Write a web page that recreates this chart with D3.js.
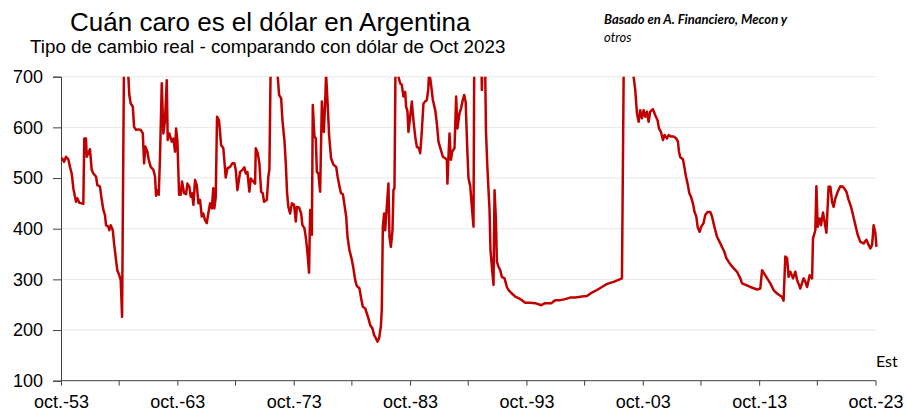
<!DOCTYPE html>
<html><head><meta charset="utf-8">
<script src="https://cdn.jsdelivr.net/npm/d3@7"></script>
<style>body{margin:0;background:#fff} svg{display:block}</style>
</head><body>
<svg id="c" width="907" height="412"></svg>
<script>
// Decimal years (Oct 1953 = 1953.75) and real exchange rate values
const years = [1953.75,1953.90,1954.01,1954.18,1954.38,1954.52,1954.67,1954.81,1954.95,1955.04,1955.15,1955.32,1955.53,1955.67,1955.75,1955.90,1955.96,1956.10,1956.24,1956.39,1956.53,1956.76,1956.87,1957.10,1957.25,1957.39,1957.53,1957.62,1957.82,1957.90,1958.02,1958.20,1958.31,1958.48,1958.59,1958.76,1958.88,1959.00,1959.25,1959.54,1959.62,1959.74,1959.92,1960.03,1960.20,1960.40,1960.60,1960.78,1960.89,1961.00,1961.17,1961.29,1961.46,1961.69,1961.83,1961.92,1962.03,1962.15,1962.26,1962.41,1962.55,1962.69,1962.84,1962.92,1963.06,1963.27,1963.41,1963.55,1963.64,1963.75,1963.90,1964.04,1964.15,1964.33,1964.50,1964.61,1964.78,1964.90,1965.01,1965.13,1965.27,1965.42,1965.56,1965.70,1965.85,1965.98,1966.13,1966.28,1966.41,1966.56,1966.71,1966.84,1966.93,1967.05,1967.16,1967.33,1967.51,1967.70,1967.91,1968.05,1968.28,1968.48,1968.65,1968.77,1968.91,1969.14,1969.34,1969.51,1969.63,1969.77,1969.94,1970.06,1970.28,1970.43,1970.49,1970.66,1970.80,1970.95,1971.09,1971.20,1971.44,1971.57,1971.66,1971.89,1972.15,1972.38,1972.49,1972.67,1972.78,1972.95,1973.07,1973.18,1973.29,1973.44,1973.59,1973.78,1973.93,1974.02,1974.21,1974.39,1974.50,1974.67,1974.82,1974.96,1975.07,1975.16,1975.31,1975.39,1975.53,1975.65,1975.74,1975.87,1976.02,1976.17,1976.34,1976.45,1976.53,1976.68,1976.79,1976.96,1977.17,1977.40,1977.52,1977.69,1977.81,1977.98,1978.09,1978.26,1978.37,1978.54,1978.75,1978.88,1979.03,1979.17,1979.40,1979.54,1979.69,1979.89,1980.03,1980.17,1980.32,1980.52,1980.66,1980.81,1980.95,1981.09,1981.24,1981.32,1981.41,1981.52,1981.61,1981.69,1981.89,1981.98,1982.10,1982.24,1982.32,1982.41,1982.60,1982.75,1982.90,1983.04,1983.18,1983.33,1983.41,1983.53,1983.61,1983.76,1983.90,1984.04,1984.19,1984.33,1984.51,1984.62,1984.73,1984.90,1985.05,1985.19,1985.31,1985.39,1985.54,1985.71,1985.91,1986.05,1986.19,1986.40,1986.57,1986.77,1986.91,1986.96,1987.05,1987.14,1987.26,1987.37,1987.57,1987.71,1987.82,1988.00,1988.14,1988.25,1988.40,1988.53,1988.66,1988.77,1988.92,1989.06,1989.20,1989.30,1989.55,1989.85,1989.92,1990.05,1990.18,1990.27,1990.38,1990.49,1990.58,1990.66,1990.78,1990.92,1991.01,1991.13,1991.21,1991.35,1991.50,1991.64,1991.87,1992.07,1992.21,1992.50,1992.79,1993.07,1993.36,1993.65,1994.08,1994.51,1995.02,1995.36,1995.88,1996.22,1996.65,1997.08,1997.51,1997.94,1998.52,1998.95,1999.38,1999.81,2000.24,2000.52,2000.81,2001.24,2001.67,2001.96,2002.14,2002.42,2002.77,2002.96,2003.10,2003.25,2003.39,2003.53,2003.68,2003.82,2003.96,2004.11,2004.25,2004.39,2004.62,2004.82,2005.02,2005.14,2005.31,2005.48,2005.62,2005.83,2005.97,2006.17,2006.40,2006.63,2006.77,2006.86,2006.97,2007.20,2007.32,2007.46,2007.60,2007.75,2007.89,2008.06,2008.20,2008.35,2008.46,2008.63,2008.78,2008.97,2009.12,2009.32,2009.55,2009.70,2009.83,2009.98,2010.13,2010.35,2010.56,2010.75,2010.93,2011.12,2011.33,2011.55,2011.85,2012.13,2012.28,2012.99,2013.57,2013.85,2014.00,2014.28,2014.71,2014.99,2015.29,2015.72,2015.85,2016.00,2016.15,2016.28,2016.43,2016.66,2016.86,2017.01,2017.29,2017.57,2017.72,2017.87,2018.09,2018.30,2018.38,2018.58,2018.67,2018.78,2018.95,2019.07,2019.24,2019.35,2019.53,2019.72,2019.87,2020.02,2020.15,2020.30,2020.50,2020.73,2020.96,2021.25,2021.44,2021.65,2021.82,2022.02,2022.22,2022.45,2022.73,2022.97,2023.16,2023.31,2023.46,2023.59,2023.74,2023.83];
const values = [541,537,532,542,537,522,509,480,463,453,460,451,450,449,578,578,542,549,557,516,509,503,486,483,457,437,427,407,404,397,407,397,371,338,318,308,299,226,1000,700,664,647,641,601,595,596,595,588,529,562,552,536,522,516,503,465,476,467,542,687,588,614,693,575,588,572,578,552,598,575,467,467,493,470,468,489,483,463,470,447,496,486,450,457,424,430,417,411,430,450,440,480,440,463,621,614,565,559,501,519,522,529,529,516,476,512,516,521,509,512,473,499,493,489,559,549,529,473,470,453,457,503,516,950,900,700,664,657,614,575,529,470,443,430,450,447,414,443,442,430,407,401,378,345,313,437,388,644,582,578,512,509,473,651,591,647,705,641,585,539,526,522,503,483,470,468,450,424,384,358,338,322,299,287,282,263,246,243,233,223,210,203,190,184,177,184,207,240,404,430,397,424,489,384,364,397,476,480,1000,700,687,684,661,670,641,631,591,621,651,614,582,562,559,549,582,647,651,654,674,710,687,654,634,608,572,555,542,539,536,489,542,588,536,552,559,661,598,628,638,651,664,650,560,500,484,443,404,900,1000,760,674,850,760,595,529,476,437,358,325,289,476,417,335,325,318,305,302,285,279,272,266,263,259,254,254,253,249,253,253,259,259,261,264,264,266,267,274,279,285,289,292,295,299,302,800,1100,850,700,674,628,611,634,618,634,621,631,611,631,636,624,614,598,591,575,585,578,585,582,582,578,572,552,541,537,522,503,489,470,463,450,433,424,404,394,404,411,427,433,433,424,411,397,384,374,364,355,342,335,328,322,315,302,292,285,280,282,318,308,292,279,272,265,258,345,342,305,315,302,315,299,282,302,295,285,308,302,381,397,484,404,420,407,432,417,392,483,483,453,443,460,473,484,483,473,457,443,427,407,388,374,371,378,368,361,368,407,391,364];

const yTicks = [100,200,300,400,500,600,700];
const xTickYears = [1953.75,1963.75,1973.75,1983.75,1993.75,2003.75,2013.75,2023.75];
const xTickLabels = ["oct.-53","oct.-63","oct.-73","oct.-83","oct.-93","oct.-03","oct.-13","oct.-23"];
const xMinorYears = [1958.75,1968.75,1978.75,1988.75,1998.75,2008.75,2018.75];

const titleText = "Cuán caro es el dólar en Argentina";
const subtitleText = "Tipo de cambio real - comparando con dólar de Oct 2023";
const noteLine1 = "Basado en A. Financiero, Mecon y";
const noteLine2 = "otros";
const estText = "Est";

const svg = d3.select("#c");
const L = 61, R = 875.5, T = 76.7, B = 380.7;
const x = d3.scaleLinear().domain([1953.75, 2023.75]).range([L, R]);
const y = d3.scaleLinear().domain([100, 700]).range([B, T]);
const font = "'Liberation Sans', Arial, sans-serif";

// gridlines
svg.append("g").selectAll("line").data(yTicks.filter(d => d > 100)).join("line")
  .attr("x1", L).attr("x2", 876).attr("y1", d => y(d)).attr("y2", d => y(d))
  .attr("stroke", "#e8e8e8").attr("stroke-width", 1);

// y axis
const yAxis = d3.axisLeft(y).tickValues(yTicks).tickSize(8).tickPadding(10).tickFormat(d3.format("d"));
const gy = svg.append("g").attr("transform", `translate(${L},0)`).call(yAxis);
gy.select(".domain").attr("stroke", "#404040");
gy.selectAll(".tick line").attr("stroke", "#404040");
gy.selectAll("text").attr("font-family", font).attr("font-size", 18).attr("fill", "#000");

// x axis
const xAxis = d3.axisBottom(x).tickValues(xTickYears).tickSize(5).tickPadding(10)
  .tickFormat((d, i) => xTickLabels[i]);
const gx = svg.append("g").attr("transform", `translate(0,${B})`).call(xAxis);
gx.select(".domain").attr("stroke", "#404040").attr("d", `M${L},0H876`);
gx.selectAll(".tick line").attr("stroke", "#404040");
gx.selectAll("text").attr("font-family", font).attr("font-size", 18).attr("fill", "#000");
gx.append("g").selectAll("line").data(xMinorYears).join("line")
  .attr("x1", d => x(d)).attr("x2", d => x(d)).attr("y1", 0).attr("y2", 5)
  .attr("stroke", "#404040");

// clip
svg.append("clipPath").attr("id", "clip").append("rect")
  .attr("x", L).attr("y", T).attr("width", 880 - L).attr("height", B - T);

const data = years.map((d, i) => [d, values[i]]);
const line = d3.line().x(d => x(d[0])).y(d => y(d[1]));
svg.append("path").datum(data).attr("clip-path", "url(#clip)")
  .attr("d", line).attr("fill", "none").attr("stroke", "#C00000")
  .attr("stroke-width", 2.5).attr("stroke-linejoin", "round");

// titles
svg.append("text").attr("x", 70).attr("y", 31).attr("font-family", font)
  .attr("font-size", 26).attr("fill", "#000").text(titleText);
svg.append("text").attr("x", 30).attr("y", 53).attr("font-family", font)
  .attr("font-size", 18.8).attr("fill", "#000").text(subtitleText);
svg.append("text").attr("x", 604).attr("y", 24).attr("font-family", "Lato, sans-serif")
  .attr("font-size", 13).attr("font-style", "italic").attr("font-weight", "bold").attr("fill", "#000").text(noteLine1);
svg.append("text").attr("x", 604).attr("y", 42).attr("font-family", "Lato, sans-serif")
  .attr("font-size", 13).attr("font-style", "italic").attr("fill", "#000").text(noteLine2);
svg.append("text").attr("x", 876).attr("y", 367).attr("font-family", "Lato, sans-serif")
  .attr("font-size", 16).attr("fill", "#000").text(estText);
</script>
</body></html>
